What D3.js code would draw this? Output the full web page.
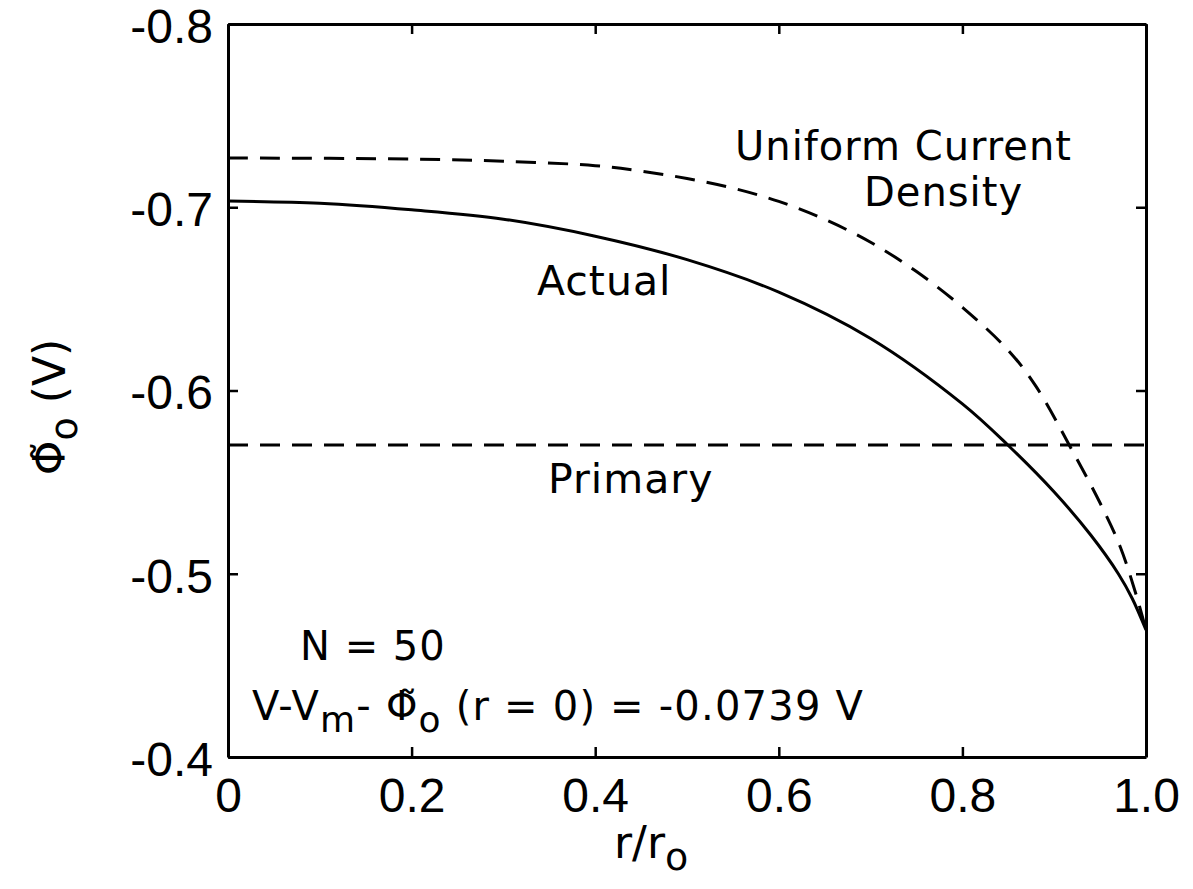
<!DOCTYPE html>
<html>
<head>
<meta charset="utf-8">
<script src="https://cdn.jsdelivr.net/npm/d3@7"></script>
<style>
  body { margin: 0; background: #fff; }
  svg { display: block; font-family: "DejaVu Sans", sans-serif; }
</style>
</head>
<body>
<div id="chart"></div>
<script>
const width = 1193
const height = 889
const margin = ({top: 24, right: 47, bottom: 132, left: 228})

// r/r0 positions and phi values
const actualR = [0, 0.1, 0.2, 0.3, 0.4, 0.5, 0.6, 0.7, 0.8, 0.85, 0.9, 0.94, 0.97, 0.985, 1.0]
const actualV = [-0.7034, -0.7022, -0.6986, -0.6935, -0.6842, -0.6714, -0.6537, -0.6284, -0.5927, -0.5700, -0.5446, -0.5210, -0.4999, -0.4865, -0.4693]

const uniformR = [0, 0.2, 0.3, 0.4, 0.45, 0.5, 0.55, 0.6, 0.65, 0.7, 0.75, 0.8, 0.85, 0.88, 0.92, 0.95, 0.972, 0.99, 1.0]
const uniformV = [-0.7269, -0.7263, -0.7251, -0.7227, -0.7197, -0.7157, -0.7104, -0.7032, -0.6934, -0.6809, -0.6649, -0.6454, -0.6219, -0.6024, -0.5669, -0.5386, -0.5146, -0.4873, -0.4693]

const primaryR = [0, 1.0]
const primaryV = [-0.5703, -0.5703]

const xTicks = [0, 0.2, 0.4, 0.6, 0.8, 1.0]
const xTickLabels = ["0", "0.2", "0.4", "0.6", "0.8", "1.0"]
const yTicks = [-0.8, -0.7, -0.6, -0.5, -0.4]
const yTickLabels = ["-0.8", "-0.7", "-0.6", "-0.5", "-0.4"]

const zip = (rs, vs) => rs.map((r, i) => ({r: r, v: vs[i]}))

let x = d3.scaleLinear()
  .domain([0, 1])
  .range([margin.left, width - margin.right])

let y = d3.scaleLinear()
  .domain([-0.8, -0.4])
  .range([margin.top, height - margin.bottom])

const line = d3.line()
  .x(d => x(d.r))
  .y(d => y(d.v))
  .curve(d3.curveCatmullRom.alpha(0.5))

const svg = d3.select("#chart").append("svg")
  .attr("width", width)
  .attr("height", height)
  .attr("viewBox", [0, 0, width, height])

const styleAxis = g => g
  .call(g => g.select(".domain").attr("stroke-width", 3))
  .call(g => g.selectAll(".tick line").attr("stroke-width", 2.5))
  .call(g => g.selectAll(".tick text").attr("font-size", 48).attr("fill", "#000"))

svg.append("g")
  .attr("transform", `translate(0,${height - margin.bottom})`)
  .call(d3.axisBottom(x).tickValues(xTicks).tickFormat((d, i) => xTickLabels[i])
    .tickSizeInner(-10).tickSizeOuter(0).tickPadding(21))
  .call(styleAxis)

svg.append("g")
  .attr("transform", `translate(0,${margin.top})`)
  .call(d3.axisTop(x).tickValues(xTicks).tickFormat("")
    .tickSizeInner(-10).tickSizeOuter(0))
  .call(styleAxis)

svg.append("g")
  .attr("transform", `translate(${margin.left},0)`)
  .call(d3.axisLeft(y).tickValues(yTicks).tickFormat((d, i) => yTickLabels[i])
    .tickSizeInner(-10).tickSizeOuter(0).tickPadding(15))
  .call(styleAxis)
  .call(g => g.selectAll(".tick text").attr("dy", "0.38em"))

svg.append("g")
  .attr("transform", `translate(${width - margin.right},0)`)
  .call(d3.axisRight(y).tickValues(yTicks).tickFormat("")
    .tickSizeInner(-10).tickSizeOuter(0))
  .call(styleAxis)

// curves
svg.append("path")
  .datum(zip(uniformR, uniformV))
  .attr("fill", "none")
  .attr("stroke", "#000")
  .attr("stroke-width", 3)
  .attr("stroke-dasharray", "20,12")
  .attr("d", line)

svg.append("path")
  .datum(zip(primaryR, primaryV))
  .attr("fill", "none")
  .attr("stroke", "#000")
  .attr("stroke-width", 3)
  .attr("stroke-dasharray", "20,12")
  .attr("d", line)

svg.append("path")
  .datum(zip(actualR, actualV))
  .attr("fill", "none")
  .attr("stroke", "#000")
  .attr("stroke-width", 3)
  .attr("stroke-linejoin", "round")
  .attr("d", line)

// labels
const label = (tx, ty, txt, size) => svg.append("text")
  .attr("x", tx).attr("y", ty)
  .attr("font-size", size)
  .attr("letter-spacing", 1)
  .text(txt)

label(735, 160, "Uniform Current", 40)
label(864, 206, "Density", 40)
label(537, 295, "Actual", 41)
label(548, 493, "Primary", 41)
label(300, 660, "N = 50", 40)

const eq = svg.append("text")
  .attr("x", 252).attr("y", 720)
  .attr("font-size", 40)
  .attr("letter-spacing", 1.2)
eq.append("tspan").text("V-V")
eq.append("tspan").attr("dy", 12).attr("font-size", 36).text("m")
eq.append("tspan").attr("dy", -12).text("- Φ\u0303")
eq.append("tspan").attr("dy", 12).attr("font-size", 36).text("o")
eq.append("tspan").attr("dy", -12).text(" (r = 0) = -0.0739 V")

// axis titles
const xt = svg.append("text")
  .attr("x", 614).attr("y", 858)
  .attr("font-size", 44)
xt.append("tspan").text("r/r")
xt.append("tspan").attr("dy", 12).attr("font-size", 38).text("o")

const yt = svg.append("text")
  .attr("transform", "translate(65,407) rotate(-90)")
  .attr("text-anchor", "middle")
  .attr("font-size", 44)
yt.append("tspan").text("Φ\u0303")
yt.append("tspan").attr("dy", 12).attr("font-size", 38).text("o")
yt.append("tspan").attr("dy", -12).text("  (V)")
</script>
</body>
</html>
